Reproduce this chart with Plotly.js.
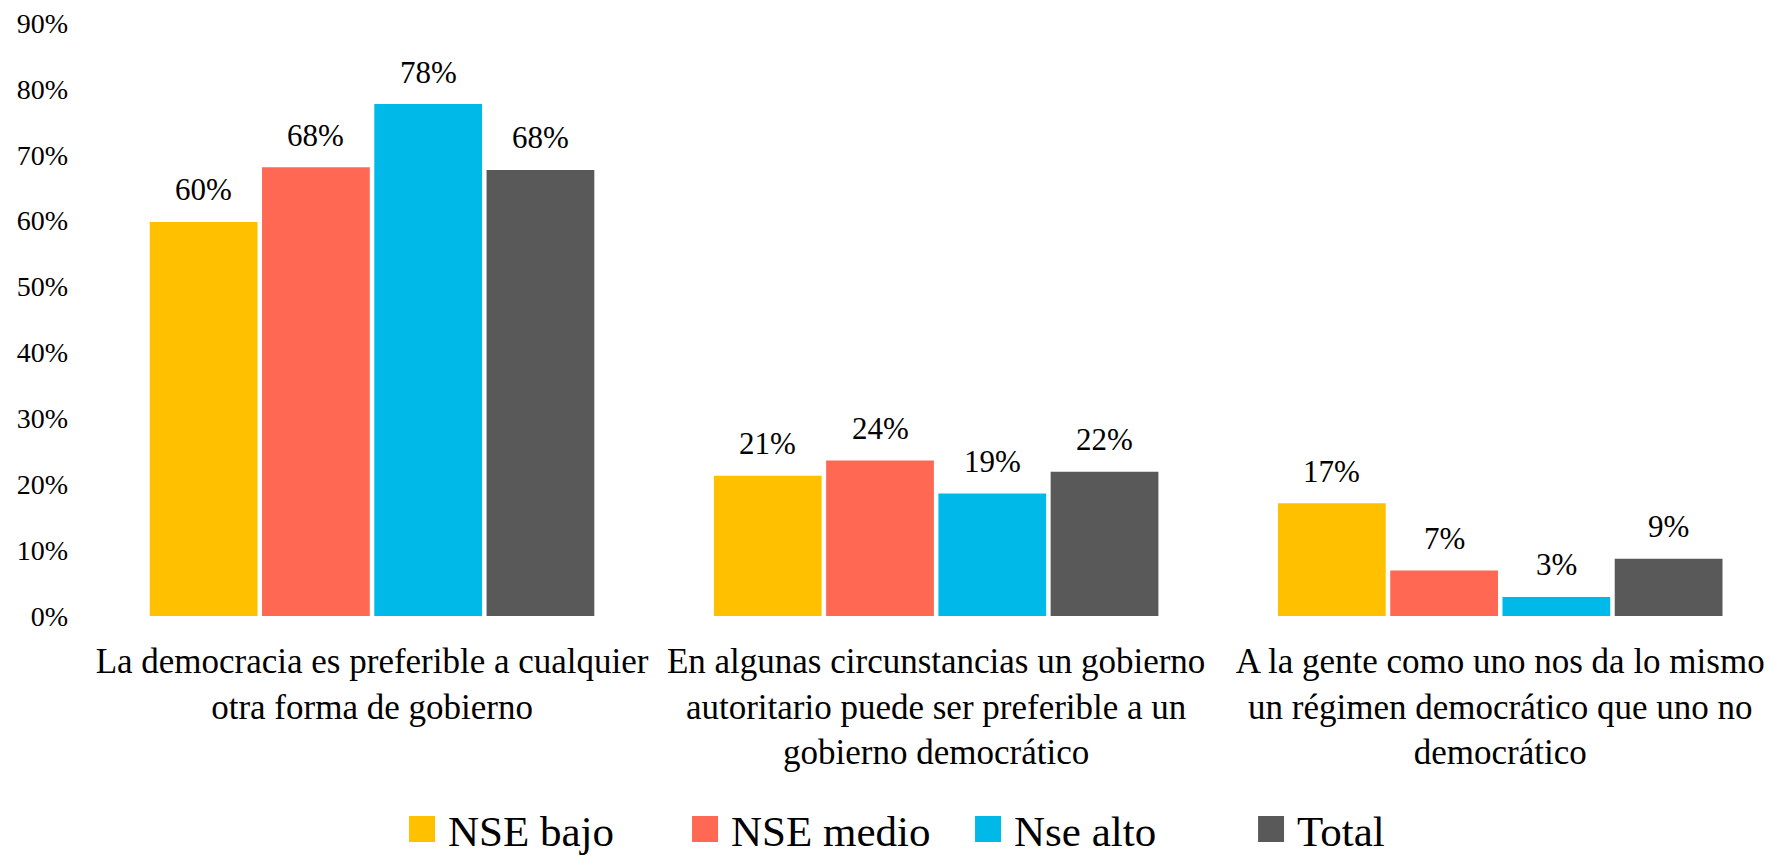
<!DOCTYPE html>
<html>
<head>
<meta charset="utf-8">
<script src="https://cdn.plot.ly/plotly-3.0.1.min.js"></script>
<style>html,body{margin:0;padding:0;background:#fff;}#chart{width:1771px;height:857px;}</style>
</head>
<body>
<div id="chart"></div>
<script>
const categories = [
  "La democracia es preferible a cualquier<br>otra forma de gobierno",
  "En algunas circunstancias un gobierno<br>autoritario puede ser preferible a un<br>gobierno democrático",
  "A la gente como uno nos da lo mismo<br>un régimen democrático que uno no<br>democrático"
];
const seriesNames = ["NSE bajo", "NSE medio", "Nse alto", "Total"];
const nseBajo  = [0.598, 0.213, 0.171];
const nseMedio = [0.681, 0.236, 0.069];
const nseAlto  = [0.777, 0.186, 0.029];
const total    = [0.677, 0.219, 0.087];
const seriesColors = ["#FFC000", "#FF6853", "#00B9E8", "#595959"];

const FONT = "Liberation Serif, Times New Roman, Tinos, DejaVu Serif, serif";
const allSeries = [nseBajo, nseMedio, nseAlto, total];
const BARGAP = 0.204, GROUPGAP = 0.04;

const traces = allSeries.map((vals, i) => ({
  type: 'bar',
  name: seriesNames[i],
  x: categories,
  y: vals,
  marker: {color: seriesColors[i], line: {width: 0}},
  hoverinfo: 'skip'
}));

const slot = (1 - BARGAP) / allSeries.length;
const annotations = [];
allSeries.forEach((vals, i) => {
  vals.forEach((v, c) => {
    annotations.push({
      xref: 'x', yref: 'y',
      x: c - (1 - BARGAP) / 2 + slot * (i + 0.5),
      y: v,
      text: Math.round(v * 100) + '%',
      showarrow: false,
      yanchor: 'middle',
      yshift: 32,
      font: {family: FONT, size: 31, color: '#000'}
    });
  });
});

const layout = {
  width: 1771, height: 857,
  margin: {l: 90, r: 0, t: 23, b: 241, pad: 0, autoexpand: false},
  paper_bgcolor: '#fff', plot_bgcolor: '#fff',
  barmode: 'group', bargap: BARGAP, bargroupgap: GROUPGAP,
  font: {family: FONT, color: '#000'},
  xaxis: {
    type: 'category',
    range: [-0.5, 2.48],
    showgrid: false, zeroline: false, showline: false, ticks: '',
    tickfont: {family: FONT, size: 35, color: '#000'},
    ticklabelstandoff: 21,
    automargin: false
  },
  yaxis: {
    range: [0, 0.9],
    dtick: 0.1, tick0: 0,
    tickformat: '.0%',
    showgrid: false, zeroline: false, showline: false, ticks: '',
    tickfont: {family: FONT, size: 28, color: '#000'},
    ticklabelstandoff: 21,
    automargin: false
  },
  showlegend: true,
  legend: {
    orientation: 'h',
    x: 0.1892, xanchor: 'left',
    y: -0.3593, yanchor: 'middle',
    maxheight: 300,
    entrywidth: 238, entrywidthmode: 'pixels',
    font: {family: FONT, size: 43, color: '#000'},
    bgcolor: 'rgba(0,0,0,0)',
    traceorder: 'normal'
  },
  annotations: annotations
};

Plotly.newPlot('chart', traces, layout, {displayModeBar: false, staticPlot: true}).then(() => {
  document.querySelectorAll('.legend .legendpoints path').forEach(p => {
    p.setAttribute('d', 'M7,13H-19V-13H7Z');
  });
});
</script>
</body>
</html>
